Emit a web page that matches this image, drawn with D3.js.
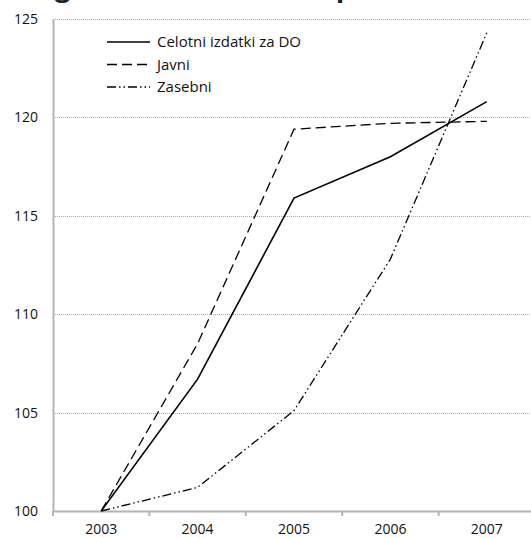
<!DOCTYPE html>
<html>
<head>
<meta charset="utf-8">
<script src="https://cdn.jsdelivr.net/npm/d3@7"></script>
<style>
  html, body { margin: 0; padding: 0; background: #fff; }
  svg { display: block; font-family: "Open Sans", "Noto Sans", sans-serif; }
</style>
</head>
<body>
<svg id="chart" width="531" height="538"></svg>
<script>
// Index values, 2003 = 100
const years = ["2003", "2004", "2005", "2006", "2007"];
const celotni = [100, 106.7, 115.9, 118.0, 120.8];
const javni = [100, 108.5, 119.4, 119.7, 119.8];
const zasebni = [100, 101.2, 105.1, 112.8, 124.3];
const yTicks = [100, 105, 110, 115, 120, 125];
const seriesNames = ["Celotni izdatki za DO", "Javni", "Zasebni"];
const title = "Pregled izdatkov za DO po virih, indeksi (2003 = 100)";

const svg = d3.select("#chart");
const margin = { left: 53, right: -4, top: 19, bottom: 27 };
const W = 531, H = 538;
const font = "'Open Sans', 'Noto Sans', sans-serif";

const x = d3.scaleBand().domain(years).range([margin.left, W - margin.right]);
const y = d3.scaleLinear().domain([100, 125]).range([H - margin.bottom, margin.top]);

// Title above the plot area (only its descenders fall inside the page)
svg.append("text")
  .attr("x", 8).attr("y", -4)
  .attr("font-size", 28).attr("font-weight", "bold")
  .attr("fill", "#222")
  .text(title);

// Horizontal dotted gridlines
svg.append("g").selectAll("line")
  .data(yTicks.filter(d => d > 100))
  .join("line")
  .attr("x1", margin.left).attr("x2", W)
  .attr("y1", d => Math.round(y(d)) + 0.5).attr("y2", d => Math.round(y(d)) + 0.5)
  .attr("stroke", "#a8a8a8").attr("stroke-width", 1)
  .attr("stroke-dasharray", "1,1");

// Y axis
const yAxis = svg.append("g")
  .attr("transform", `translate(${margin.left},0)`)
  .call(d3.axisLeft(y).tickValues(yTicks).tickSize(0).tickPadding(15));
yAxis.select(".domain").attr("stroke", "#b4b4b4").attr("stroke-width", 2);
yAxis.selectAll("text").attr("font-size", 14).attr("fill", "#111")
  .attr("font-family", font);

// X axis
const xAxis = svg.append("g")
  .attr("transform", `translate(0,${y(100)})`)
  .call(d3.axisBottom(x).tickSize(0).tickPadding(13));
xAxis.select(".domain").attr("stroke", "#b4b4b4").attr("stroke-width", 2);
xAxis.selectAll("text").attr("font-size", 14).attr("fill", "#111")
  .attr("font-family", font);
// Category boundary ticks
xAxis.append("g").selectAll("line")
  .data(years)
  .join("line")
  .attr("x1", d => x(d)).attr("x2", d => x(d))
  .attr("y1", 0).attr("y2", 5)
  .attr("stroke", "#b4b4b4").attr("stroke-width", 2);

// Series lines
const styles = [
  { data: celotni, dash: null, width: 1.6 },
  { data: javni, dash: "10,5", width: 1.3 },
  { data: zasebni, dash: "9,3,1.5,3,1.5,3", width: 1.3 }
];
const line = d3.line()
  .x((d, i) => x(years[i]) + x.bandwidth() / 2)
  .y(d => y(d));

svg.append("g").selectAll("path")
  .data(styles)
  .join("path")
  .attr("d", s => line(s.data))
  .attr("fill", "none")
  .attr("stroke", "#000")
  .attr("stroke-width", s => s.width)
  .attr("stroke-dasharray", s => s.dash);

// Legend
const legend = svg.append("g").attr("transform", "translate(107,42)");
const li = legend.selectAll("g")
  .data(seriesNames)
  .join("g")
  .attr("transform", (d, i) => `translate(0,${i * 22.5})`);
li.append("line")
  .attr("x1", 0).attr("x2", 43).attr("y1", 0).attr("y2", 0)
  .attr("stroke", "#000")
  .attr("stroke-width", (d, i) => styles[i].width)
  .attr("stroke-dasharray", (d, i) => styles[i].dash);
li.append("text")
  .attr("x", 50).attr("y", 0).attr("dy", "0.35em")
  .attr("font-size", 15).attr("fill", "#111")
  .attr("font-family", font)
  .text(d => d);
</script>
</body>
</html>
